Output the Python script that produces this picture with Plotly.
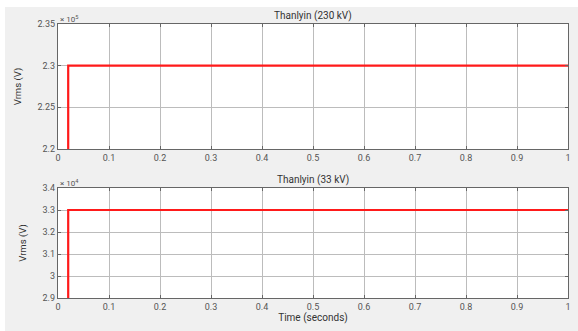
import plotly.graph_objects as go
from plotly.subplots import make_subplots

time_s = [0.0, 0.02, 0.02, 1.0]
v_230 = [0.0, 0.0, 230000.0, 230000.0]
v_33 = [0.0, 0.0, 33000.0, 33000.0]

x_ticks = [0, 0.1, 0.2, 0.3, 0.4, 0.5, 0.6, 0.7, 0.8, 0.9, 1]
x_ticklabels = ["0", "0.1", "0.2", "0.3", "0.4", "0.5", "0.6", "0.7", "0.8", "0.9", "1"]
y1_ticks = [220000, 225000, 230000, 235000]
y1_labels = ["2.2", "2.25", "2.3", "2.35"]
y2_ticks = [29000, 30000, 31000, 32000, 33000, 34000]
y2_labels = ["2.9", "3", "3.1", "3.2", "3.3", "3.4"]

W, H = 578, 331
FONT = "Roboto, Arial, sans-serif"
fig = make_subplots(rows=2, cols=1)

fig.add_trace(go.Scatter(x=time_s, y=v_230, mode="lines",
                         line=dict(color="#ff1a1a", width=2.2), showlegend=False), row=1, col=1)
fig.add_trace(go.Scatter(x=time_s, y=v_33, mode="lines",
                         line=dict(color="#ff1a1a", width=2.2), showlegend=False), row=2, col=1)

xd = [58 / W, 568 / W]
ax_common = dict(showline=True, mirror="ticks", linecolor="#666666", linewidth=1.3,
                 showgrid=True, gridcolor="#bcbcbc", gridwidth=1.2, automargin=False,
                 ticks="inside", ticklen=3, tickcolor="#666666", zeroline=False,
                 tickfont=dict(family=FONT, size=9, color="#555555"))

fig.update_layout(
    width=W, height=H, margin=dict(l=0, r=0, t=0, b=0),
    paper_bgcolor="#f0f0f0", plot_bgcolor="white",
    xaxis=dict(domain=xd, range=[0, 1], tickvals=x_ticks, ticktext=x_ticklabels, **ax_common),
    xaxis2=dict(domain=xd, range=[0, 1], tickvals=x_ticks, ticktext=x_ticklabels,
                title=dict(text="Time (seconds)", standoff=2,
                           font=dict(family=FONT, size=10, color="#333333")),
                **ax_common),
    yaxis=dict(domain=[1 - 149 / H, 1 - 24 / H], range=[220000, 235000],
               tickvals=y1_ticks, ticktext=y1_labels,
               title=dict(text="Vrms (V)", standoff=14,
                          font=dict(family=FONT, size=9.5, color="#333333")),
               **ax_common),
    yaxis2=dict(domain=[1 - 298 / H, 1 - 188 / H], range=[29000, 34000],
                tickvals=y2_ticks, ticktext=y2_labels,
                title=dict(text="Vrms (V)", standoff=14,
                           font=dict(family=FONT, size=9.5, color="#333333")),
                **ax_common),
)

# white strips at top and left edge of the picture
fig.add_shape(type="rect", xref="paper", yref="paper", x0=0, x1=1, y0=1 - 7 / H, y1=1,
              fillcolor="white", line=dict(width=0), layer="below")
fig.add_shape(type="rect", xref="paper", yref="paper", x0=0, x1=5 / W, y0=0, y1=1,
              fillcolor="white", line=dict(width=0), layer="below")

fig.add_annotation(text="Thanlyin (230 kV)", xref="paper", yref="paper",
                   x=(xd[0] + xd[1]) / 2, y=1 - 24 / H, yanchor="bottom", yshift=0, showarrow=False,
                   font=dict(family=FONT, size=10, color="#333333"))
fig.add_annotation(text="Thanlyin (33 kV)", xref="paper", yref="paper",
                   x=(xd[0] + xd[1]) / 2, y=1 - 188 / H, yanchor="bottom", yshift=0, showarrow=False,
                   font=dict(family=FONT, size=10, color="#333333"))
fig.add_annotation(text="× 10<sup>5</sup>", xref="paper", yref="paper",
                   x=xd[0], y=1 - 24 / H, xanchor="left", yanchor="bottom", yshift=-2, showarrow=False,
                   font=dict(family=FONT, size=8, color="#555555"))
fig.add_annotation(text="× 10<sup>4</sup>", xref="paper", yref="paper",
                   x=xd[0], y=1 - 188 / H, xanchor="left", yanchor="bottom", yshift=-2, showarrow=False,
                   font=dict(family=FONT, size=8, color="#555555"))

fig.write_html("out.html", config={"displayModeBar": False},
               post_script="document.body.style.margin='0';document.body.style.padding='0';")
